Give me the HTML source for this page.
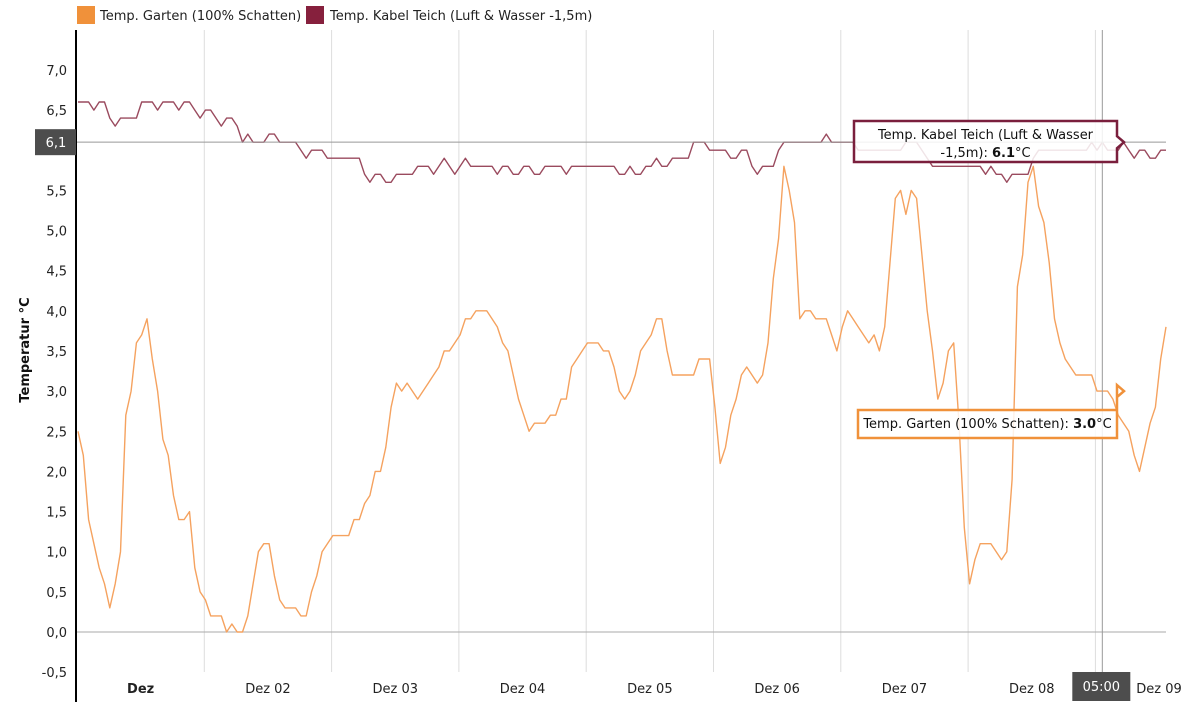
<!DOCTYPE html>
<html><head><meta charset="utf-8"><style>
body{margin:0;background:#fff;font-family:"DejaVu Sans","Liberation Sans",sans-serif;}
svg text{font-family:"DejaVu Sans","Liberation Sans",sans-serif;}
</style></head><body>
<svg id="chart" width="1201" height="702" viewBox="0 0 1201 702" xmlns="http://www.w3.org/2000/svg">
<g>
 <g><rect x="77" y="6" width="18" height="18" fill="#f0913a"/><text x="100" y="20" font-size="13" fill="#222">Temp. Garten (100% Schatten)</text></g>
 <g><rect x="306" y="6" width="18" height="18" fill="#86203d"/><text x="330" y="20" font-size="13" fill="#222">Temp. Kabel Teich (Luft &amp; Wasser -1,5m)</text></g>
</g>
<g id="grid"></g>
<g id="yaxis"></g>
<g id="xaxis"></g>
<text x="29" y="350" font-size="13" font-weight="bold" fill="#111" text-anchor="middle" transform="rotate(-90 29 350)">Temperatur °C</text>
<g id="series"></g>
<g id="overlay"></g>
</svg>
<script>
const yTicks=[-0.5,0,0.5,1,1.5,2,2.5,3,3.5,4,4.5,5,5.5,6.5,7];
const yTickLabels=["-0,5","0,0","0,5","1,0","1,5","2,0","2,5","3,0","3,5","4,0","4,5","5,0","5,5","6,5","7,0"];
const dayLabels=["Dez","Dez 02","Dez 03","Dez 04","Dez 05","Dez 06","Dez 07","Dez 08","Dez 09"];
const garten=[2.5,2.2,1.4,1.1,0.8,0.6,0.3,0.6,1.0,2.7,3.0,3.6,3.7,3.9,3.4,3.0,2.4,2.2,1.7,1.4,1.4,1.5,0.8,0.5,0.4,0.2,0.2,0.2,0.0,0.1,0.0,0.0,0.2,0.6,1.0,1.1,1.1,0.7,0.4,0.3,0.3,0.3,0.2,0.2,0.5,0.7,1.0,1.1,1.2,1.2,1.2,1.2,1.4,1.4,1.6,1.7,2.0,2.0,2.3,2.8,3.1,3.0,3.1,3.0,2.9,3.0,3.1,3.2,3.3,3.5,3.5,3.6,3.7,3.9,3.9,4.0,4.0,4.0,3.9,3.8,3.6,3.5,3.2,2.9,2.7,2.5,2.6,2.6,2.6,2.7,2.7,2.9,2.9,3.3,3.4,3.5,3.6,3.6,3.6,3.5,3.5,3.3,3.0,2.9,3.0,3.2,3.5,3.6,3.7,3.9,3.9,3.5,3.2,3.2,3.2,3.2,3.2,3.4,3.4,3.4,2.8,2.1,2.3,2.7,2.9,3.2,3.3,3.2,3.1,3.2,3.6,4.4,4.9,5.8,5.5,5.1,3.9,4.0,4.0,3.9,3.9,3.9,3.7,3.5,3.8,4.0,3.9,3.8,3.7,3.6,3.7,3.5,3.8,4.6,5.4,5.5,5.2,5.5,5.4,4.7,4.0,3.5,2.9,3.1,3.5,3.6,2.6,1.3,0.6,0.9,1.1,1.1,1.1,1.0,0.9,1.0,1.9,4.3,4.7,5.6,5.8,5.3,5.1,4.6,3.9,3.6,3.4,3.3,3.2,3.2,3.2,3.2,3.0,3.0,3.0,2.9,2.7,2.6,2.5,2.2,2.0,2.3,2.6,2.8,3.4,3.8];
const teich=[6.6,6.6,6.6,6.5,6.6,6.6,6.4,6.3,6.4,6.4,6.4,6.4,6.6,6.6,6.6,6.5,6.6,6.6,6.6,6.5,6.6,6.6,6.5,6.4,6.5,6.5,6.4,6.3,6.4,6.4,6.3,6.1,6.2,6.1,6.1,6.1,6.2,6.2,6.1,6.1,6.1,6.1,6.0,5.9,6.0,6.0,6.0,5.9,5.9,5.9,5.9,5.9,5.9,5.9,5.7,5.6,5.7,5.7,5.6,5.6,5.7,5.7,5.7,5.7,5.8,5.8,5.8,5.7,5.8,5.9,5.8,5.7,5.8,5.9,5.8,5.8,5.8,5.8,5.8,5.7,5.8,5.8,5.7,5.7,5.8,5.8,5.7,5.7,5.8,5.8,5.8,5.8,5.7,5.8,5.8,5.8,5.8,5.8,5.8,5.8,5.8,5.8,5.7,5.7,5.8,5.7,5.7,5.8,5.8,5.9,5.8,5.8,5.9,5.9,5.9,5.9,6.1,6.1,6.1,6.0,6.0,6.0,6.0,5.9,5.9,6.0,6.0,5.8,5.7,5.8,5.8,5.8,6.0,6.1,6.1,6.1,6.1,6.1,6.1,6.1,6.1,6.2,6.1,6.1,6.1,6.1,6.1,6.0,6.0,6.0,6.0,6.0,6.0,6.0,6.0,6.0,6.1,6.1,6.1,6.0,5.9,5.8,5.8,5.8,5.8,5.8,5.8,5.8,5.8,5.8,5.8,5.7,5.8,5.7,5.7,5.6,5.7,5.7,5.7,5.7,5.9,6.0,6.0,6.0,6.0,6.0,6.0,6.0,6.0,6.0,6.0,6.1,6.0,6.1,6.0,6.0,6.0,6.1,6.0,5.9,6.0,6.0,5.9,5.9,6.0,6.0];
const hoverIndex=193;
const NS="http://www.w3.org/2000/svg";
const X0=77,X1=1166,Y0=632,PXU=80.3,DAYW=127.3;
function y(v){return Y0-v*PXU;}
function xi(i,n){return 78+(X1-78)*i/(n-1);}
function el(t,a,p){const e=document.createElementNS(NS,t);for(const k in a)e.setAttribute(k,a[k]);p.appendChild(e);return e;}
const grid=document.getElementById('grid'),ya=document.getElementById('yaxis'),xa=document.getElementById('xaxis'),se=document.getElementById('series'),ov=document.getElementById('overlay');
for(let d=1;d<=8;d++){const gx=X0+d*DAYW;const l=el('line',{x1:gx,x2:gx,y1:30,y2:672,stroke:'#ddd','stroke-width':1},grid);

}
const zl=el('line',{x1:X0,x2:X1,y1:y(0),y2:y(0),stroke:'#aaa','stroke-width':1},grid);


const ax=el('line',{x1:76,x2:76,y1:30,y2:702,stroke:'#000','stroke-width':2},ya);


yTicks.forEach((v,i)=>{const t=el('text',{x:67,y:y(v)+5,'font-size':13,'text-anchor':'end',fill:'#222'},ya);t.textContent=yTickLabels[i];

});
dayLabels.forEach((s,d)=>{const t=el('text',{x:X0+d*DAYW+DAYW/2,y:693,'font-size':13,'text-anchor':'middle',fill:'#222','font-weight':d===0?'bold':'normal'},xa);t.textContent=s;

});
function line(arr,col,name){const p=el('path',{d:arr.map((v,i)=>(i?'L':'M')+xi(i,arr.length).toFixed(1)+','+y(v).toFixed(1)).join(''),fill:'none',stroke:col,'stroke-width':1.4,'stroke-linejoin':'round'},se);

}
line(garten,'#f5a25f','series-garten');
line(teich,'#9a4a5e','series-kabel-teich');
const hx=xi(hoverIndex,garten.length),hy=y(teich[hoverIndex]);
const vl=el('line',{x1:hx,x2:hx,y1:30,y2:672,stroke:'#999','stroke-width':1},ov);


const hl=el('line',{x1:X0,x2:X1,y1:hy,y2:hy,stroke:'#999','stroke-width':1},ov);


const yb=el('g',{},ov);


el('rect',{x:35,y:hy-13,width:41,height:26,fill:'#4d4d4d'},yb);
const ybt=el('text',{x:56,y:hy+5,'font-size':13,fill:'#fff','text-anchor':'middle'},yb);ybt.textContent=teich[hoverIndex].toFixed(1).replace('.',',');
const xb=el('g',{},ov);


el('rect',{x:hx-30,y:672,width:58,height:29,fill:'#4d4d4d'},xb);
const xbt=el('text',{x:hx-1,y:691,'font-size':13,fill:'#fff','text-anchor':'middle'},xb);xbt.textContent='05:00';
function tip(x1,y1,x2,y2,px,py,col,name,lines){const g=el('g',{},ov);


const my=(y1+y2)/2;
el('path',{d:`M${x1},${y1}L${x2},${y1}L${x2},${py-6}L${px},${py}L${x2},${py+6}L${x2},${y2}L${x1},${y2}Z`,fill:'rgba(255,255,255,0.85)',stroke:col,'stroke-width':2.5},g);
lines.forEach((ln,i)=>{const t=el('text',{x:(x1+x2)/2,y:y1+18+i*18,'font-size':13,fill:'#111','text-anchor':'middle'},g);t.innerHTML=ln;});}
tip(854,121,1117,162,1124,hy,'#7a1f3d','tooltip-kabel-teich',['Temp. Kabel Teich (Luft &amp; Wasser','-1,5m): <tspan font-weight="bold">'+teich[hoverIndex].toFixed(1)+'</tspan>°C']);
const gy=y(garten[hoverIndex]);
tip(858,410,1117,438,1124,gy,'#f0913a','tooltip-garten',['Temp. Garten (100% Schatten): <tspan font-weight="bold">'+garten[hoverIndex].toFixed(1)+'</tspan>°C']);
</script>
</body></html>
